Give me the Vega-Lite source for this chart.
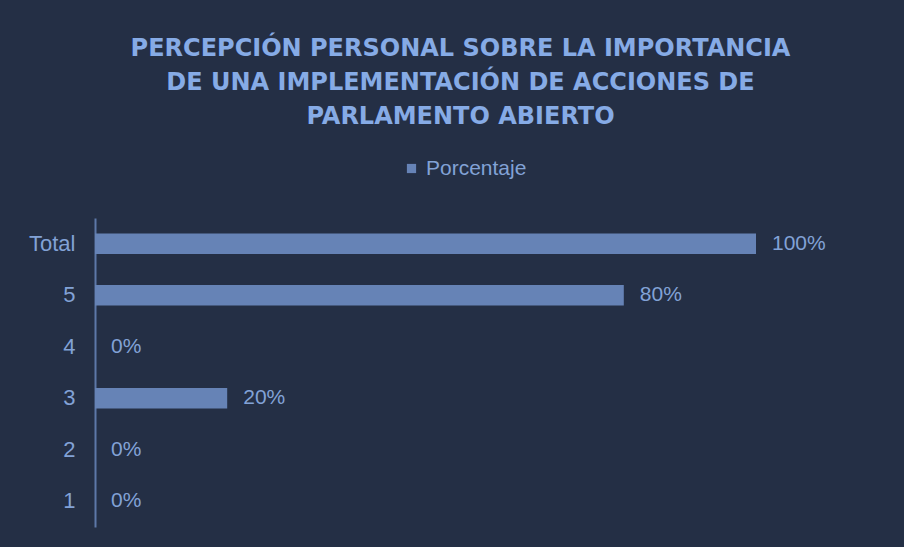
{
  "$schema": "https://vega.github.io/schema/vega-lite/v6.json",
  "autosize": "none",
  "width": 661,
  "height": 309,
  "padding": {"left": 95, "top": 218, "right": 148, "bottom": 20},
  "background": "#242f45",
  "title": {
    "text": ["PERCEPCIÓN PERSONAL SOBRE LA IMPORTANCIA", "DE UNA IMPLEMENTACIÓN DE ACCIONES DE", "PARLAMENTO ABIERTO"],
    "font": "DejaVu Sans",
    "fontWeight": "bold",
    "fontSize": 24,
    "lineHeight": 34,
    "color": "#86abe6",
    "anchor": "middle",
    "frame": "group",
    "dx": 35,
    "offset": 29
  },
  "data": {
    "values": [
      {"categoria": "Total", "porcentaje": 1.0, "serie": "Porcentaje"},
      {"categoria": "5", "porcentaje": 0.8, "serie": "Porcentaje"},
      {"categoria": "4", "porcentaje": 0.0, "serie": "Porcentaje"},
      {"categoria": "3", "porcentaje": 0.2, "serie": "Porcentaje"},
      {"categoria": "2", "porcentaje": 0.0, "serie": "Porcentaje"},
      {"categoria": "1", "porcentaje": 0.0, "serie": "Porcentaje"}
    ]
  },
  "encoding": {
    "y": {
      "field": "categoria",
      "type": "nominal",
      "sort": ["Total", "5", "4", "3", "2", "1"],
      "scale": {"paddingInner": 0.6, "paddingOuter": 0.3},
      "axis": {
        "title": null,
        "ticks": false,
        "domainColor": "#5d78a8",
        "domainWidth": 2,
        "labelColor": "#82a2d6",
        "labelFont": "Liberation Sans",
        "labelFontSize": 22,
        "labelPadding": 20,
        "grid": false
      }
    },
    "x": {
      "field": "porcentaje",
      "type": "quantitative",
      "scale": {"domain": [0, 1], "nice": false},
      "axis": null
    }
  },
  "layer": [
    {
      "mark": {"type": "bar", "clip": false},
      "encoding": {
        "color": {
          "field": "serie",
          "type": "nominal",
          "scale": {"range": ["#6683b6"]},
          "legend": {
            "title": null,
            "orient": "none",
            "legendX": 306,
            "legendY": -60,
            "symbolType": "square",
            "symbolSize": 85,
            "labelFont": "Liberation Sans",
            "labelFontSize": 21,
            "labelColor": "#82a2d6",
            "labelOffset": 4
          }
        }
      }
    },
    {
      "mark": {
        "type": "text",
        "align": "left",
        "baseline": "middle",
        "dx": 16,
        "font": "Liberation Sans",
        "fontSize": 21,
        "color": "#82a2d6"
      },
      "encoding": {
        "text": {"field": "porcentaje", "type": "quantitative", "format": ".0%"}
      }
    }
  ],
  "config": {
    "view": {"stroke": null}
  }
}
